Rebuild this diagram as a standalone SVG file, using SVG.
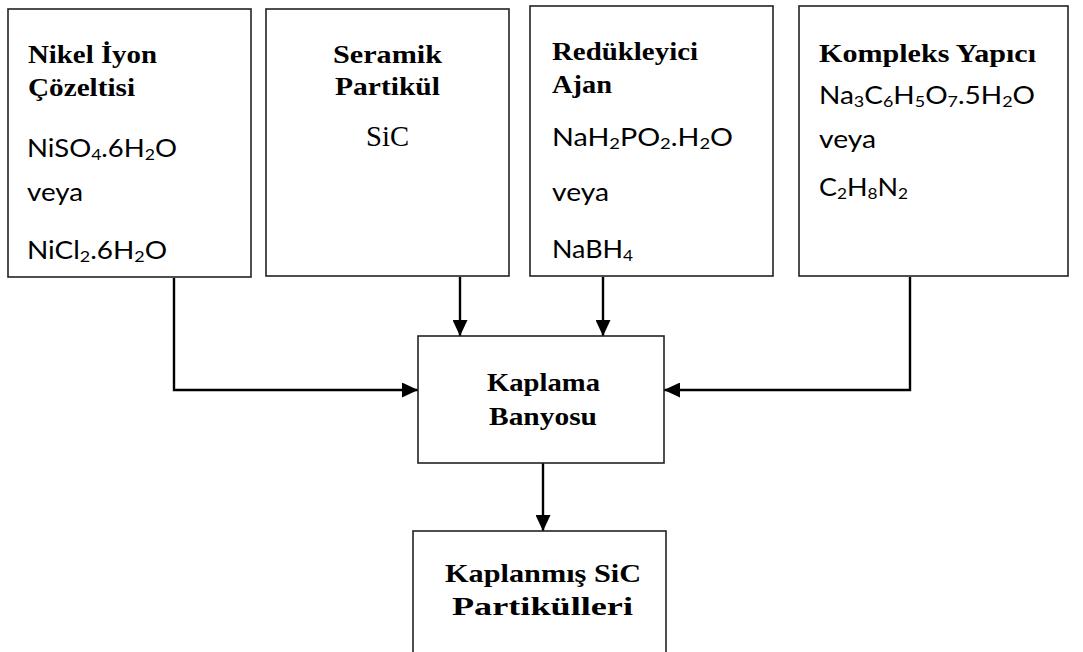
<svg xmlns="http://www.w3.org/2000/svg" width="1083" height="652" viewBox="0 0 1083 652">
<defs>
<style>
.box{fill:#fff;stroke:#222;stroke-width:1.6}
.h{font-family:"Liberation Serif","Times New Roman",serif;font-weight:bold;font-size:26px;fill:#000}
.r{font-family:"Liberation Serif","Times New Roman",serif;font-size:29px;fill:#000}
.s{font-family:Lato,"Liberation Sans",sans-serif;font-size:25px;fill:#000}
.sub{font-size:16px}
.c{fill:none;stroke:#000;stroke-width:2.4}
</style>
<marker id="ah" markerWidth="16" markerHeight="15" refX="16" refY="7.5" orient="auto" markerUnits="userSpaceOnUse">
<path d="M0,0 L16,7.5 L0,15 Z" fill="#000"/>
</marker>
</defs>
<rect width="1083" height="652" fill="#fff"/>
<g id="connectors">
<path class="c" d="M174,278 V390 H418" marker-end="url(#ah)"/>
<path class="c" d="M460,277 V336" marker-end="url(#ah)"/>
<path class="c" d="M603,277 V336" marker-end="url(#ah)"/>
<path class="c" d="M910,277 V390 H664" marker-end="url(#ah)"/>
<path class="c" d="M543,463 V531" marker-end="url(#ah)"/>
</g>
<g id="nikel">
<rect class="box" x="8" y="9" width="243" height="268"/>
<text class="h" x="28" y="63" textLength="129" lengthAdjust="spacingAndGlyphs">Nikel İyon</text>
<text class="h" x="28" y="96" textLength="107" lengthAdjust="spacingAndGlyphs">Çözeltisi</text>
<text class="s" x="27" y="157" textLength="150" lengthAdjust="spacingAndGlyphs">NiSO<tspan class="sub" dy="3">4</tspan><tspan dy="-3">.6H</tspan><tspan class="sub" dy="3">2</tspan><tspan dy="-3">O</tspan></text>
<text class="s" x="27" y="201" textLength="56" lengthAdjust="spacingAndGlyphs">veya</text>
<text class="s" x="27" y="259" textLength="140" lengthAdjust="spacingAndGlyphs">NiCl<tspan class="sub" dy="3">2</tspan><tspan dy="-3">.6H</tspan><tspan class="sub" dy="3">2</tspan><tspan dy="-3">O</tspan></text>
</g>
<g id="seramik">
<rect class="box" x="266" y="9" width="243" height="267"/>
<text class="h" x="333" y="63" textLength="109" lengthAdjust="spacingAndGlyphs">Seramik</text>
<text class="h" x="335" y="95" textLength="105" lengthAdjust="spacingAndGlyphs">Partikül</text>
<text class="r" x="366" y="146" textLength="43" lengthAdjust="spacingAndGlyphs">SiC</text>
</g>
<g id="redukleyici">
<rect class="box" x="530" y="6" width="243" height="270"/>
<text class="h" x="552" y="60" textLength="146" lengthAdjust="spacingAndGlyphs">Redükleyici</text>
<text class="h" x="552" y="93" textLength="60" lengthAdjust="spacingAndGlyphs">Ajan</text>
<text class="s" x="552" y="146" textLength="181" lengthAdjust="spacingAndGlyphs">NaH<tspan class="sub" dy="3">2</tspan><tspan dy="-3">PO</tspan><tspan class="sub" dy="3">2</tspan><tspan dy="-3">.H</tspan><tspan class="sub" dy="3">2</tspan><tspan dy="-3">O</tspan></text>
<text class="s" x="552" y="201" textLength="57" lengthAdjust="spacingAndGlyphs">veya</text>
<text class="s" x="552" y="258" textLength="81" lengthAdjust="spacingAndGlyphs">NaBH<tspan class="sub" dy="3">4</tspan></text>
</g>
<g id="kompleks">
<rect class="box" x="799" y="6" width="269" height="270"/>
<text class="h" x="819" y="62" textLength="217" lengthAdjust="spacingAndGlyphs">Kompleks Yapıcı</text>
<text class="s" x="819" y="104" textLength="216" lengthAdjust="spacingAndGlyphs">Na<tspan class="sub" dy="3">3</tspan><tspan dy="-3">C</tspan><tspan class="sub" dy="3">6</tspan><tspan dy="-3">H</tspan><tspan class="sub" dy="3">5</tspan><tspan dy="-3">O</tspan><tspan class="sub" dy="3">7</tspan><tspan dy="-3">.5H</tspan><tspan class="sub" dy="3">2</tspan><tspan dy="-3">O</tspan></text>
<text class="s" x="819" y="148" textLength="57" lengthAdjust="spacingAndGlyphs">veya</text>
<text class="s" x="819" y="196" textLength="89" lengthAdjust="spacingAndGlyphs">C<tspan class="sub" dy="3">2</tspan><tspan dy="-3">H</tspan><tspan class="sub" dy="3">8</tspan><tspan dy="-3">N</tspan><tspan class="sub" dy="3">2</tspan></text>
</g>
<g id="kaplama">
<rect class="box" x="418" y="336" width="246" height="127"/>
<text class="h" x="487" y="391" textLength="113" lengthAdjust="spacingAndGlyphs">Kaplama</text>
<text class="h" x="489" y="425" textLength="108" lengthAdjust="spacingAndGlyphs">Banyosu</text>
</g>
<g id="kaplanmis">
<rect class="box" x="413" y="531" width="253" height="135"/>
<text class="h" x="445" y="582" textLength="196" lengthAdjust="spacingAndGlyphs">Kaplanmış SiC</text>
<text class="h" x="452" y="615" textLength="181" lengthAdjust="spacingAndGlyphs">Partikülleri</text>
</g>
</svg>
